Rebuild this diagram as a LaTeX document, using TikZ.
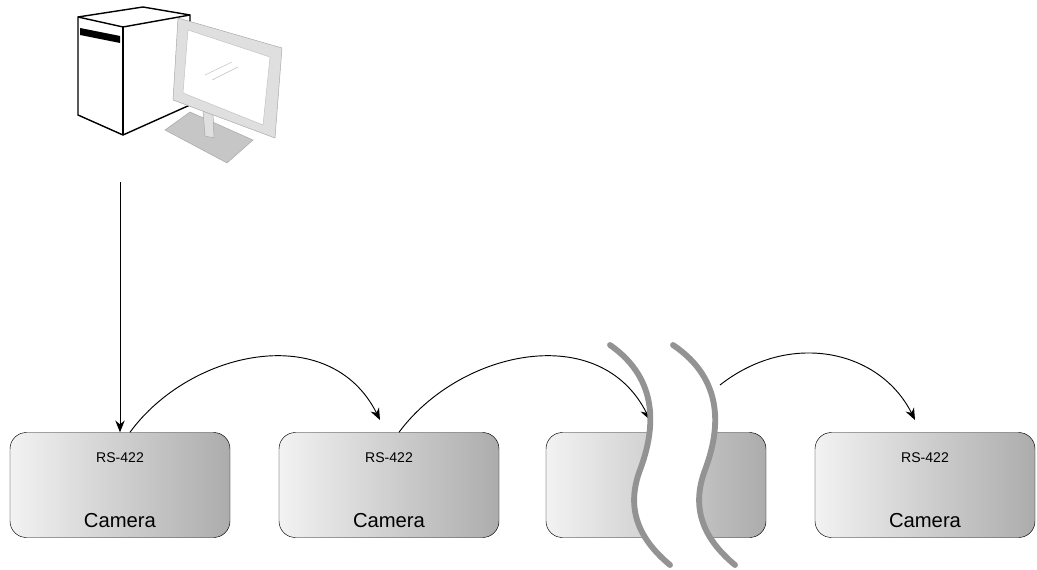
\documentclass[tikz,border=0pt]{standalone}
\usepackage{fontspec}
\setmainfont{Liberation Sans}
\usetikzlibrary{arrows.meta}
\tikzset{
  cam/.style={draw, rounded corners=14pt, left color=gray!10, right color=gray!65, minimum width=220*0.03cm, minimum height=105*0.03cm},
  link/.style={-{Stealth[length=10pt,width=8pt]}, thick},
  brk/.style={line width=5pt, gray!85, line cap=round}
}
\begin{document}
\begin{tikzpicture}[x=0.03cm,y=-0.03cm]
    \useasboundingbox (0,0) rectangle (1037,570);

    % computer
    \draw[very thick, fill=white] (78,17) -- (143,7) -- (190,15) -- (190,105) -- (123,135) -- (78,115) -- cycle;
    \draw[very thick] (78,17) -- (123,27) -- (190,15);
    \draw[very thick] (123,27) -- (123,135);
    \fill (80,28) -- (120,36) -- (120,43) -- (80,35) -- cycle;
    \draw[gray!70, fill=gray!45] (165,130) -- (190,112) -- (253,140) -- (227,163) -- cycle;
    \draw[gray!70, fill=gray!25] (203,110) -- (213,112) -- (214,138) -- (205,136) -- cycle;
    \draw[gray!70, fill=gray!25] (178,18) -- (282,48) -- (275,138) -- (173,100) -- cycle;
    \draw[gray!50, fill=white] (188,30) -- (270,57) -- (263,125) -- (183,93) -- cycle;
    \draw[gray!50] (205,75) -- (232,62) (212,80) -- (238,67);
    \coordinate (pc) at (120,182);

    % cameras
    \node[cam] (c1) at (120,485) {};
    \node[cam] (c2) at (389,485) {};
    \node[cam] (c3) at (656,485) {};
    \node[cam] (c4) at (925,485) {};
    \foreach \n in {c1,c2,c4} {
      \node at ([yshift=-25*0.03cm]\n.north) {\large RS-422};
      \node at ([yshift=17*0.03cm]\n.south) {\LARGE Camera};
    }

    % break
    \fill[white] (610,345) .. controls (660,380) and (655,430) .. (640,470) .. controls (625,510) and (640,540) .. (670,565)
      -- (735,565) .. controls (705,540) and (690,510) .. (705,470) .. controls (720,430) and (725,380) .. (673,345) -- cycle;

    % connectors
    \draw[link] (pc) -- (c1.north -| pc);
    \draw[link] ([xshift=10*0.03cm]c1.north) .. controls (190,350) and (330,320) .. (380,420);
    \coordinate (b1) at (650,420);
    \draw[link] ([xshift=10*0.03cm]c2.north) .. controls (460,350) and (600,320) .. (b1);
    \coordinate (b2) at (720,385);
    \draw[link] (b2) .. controls (790,330) and (880,350) .. (915,420);

    \draw[brk] (610,345) .. controls (660,380) and (655,430) .. (640,470) .. controls (625,510) and (640,540) .. (670,565);
    \draw[brk] (673,345) .. controls (725,380) and (720,430) .. (705,470) .. controls (690,510) and (705,540) .. (735,565);
\end{tikzpicture}
\end{document}
